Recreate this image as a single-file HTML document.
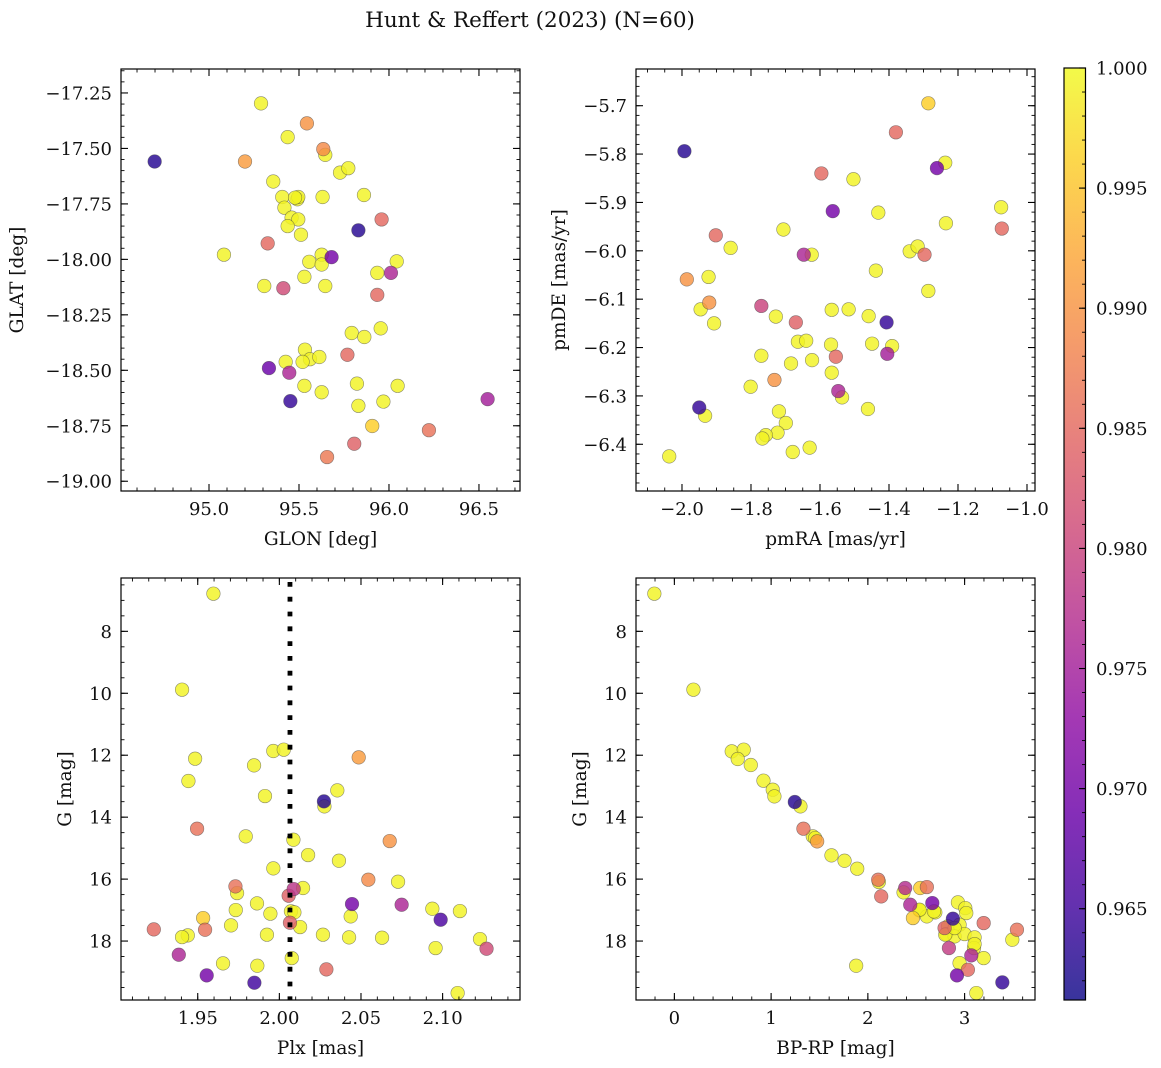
<!DOCTYPE html>
<html><head><meta charset="utf-8">
<style>
html,body{margin:0;padding:0;background:#fff;}
svg{display:block;font-family:"DejaVu Serif","Liberation Serif",serif;}
</style></head>
<body>
<svg id="fig" width="1161" height="1068" viewBox="0 0 1161 1068" xmlns="http://www.w3.org/2000/svg">
<rect width="1161" height="1068" fill="#fff"/>
<text x="530" y="27" text-anchor="middle" font-size="21.5" fill="#111">Hunt &amp; Reffert (2023) (N=60)</text>
<defs>
<linearGradient id="plasmaGrad" x1="0" y1="1" x2="0" y2="0">
<stop offset="0" stop-color="#0d0887"/><stop offset="0.1" stop-color="#41049d"/><stop offset="0.2" stop-color="#6a00a8"/><stop offset="0.3" stop-color="#8f0da4"/><stop offset="0.4" stop-color="#b12a90"/><stop offset="0.5" stop-color="#cc4778"/><stop offset="0.6" stop-color="#e16462"/><stop offset="0.7" stop-color="#f2844b"/><stop offset="0.8" stop-color="#fca636"/><stop offset="0.9" stop-color="#fcce25"/><stop offset="1" stop-color="#f0f921"/>
</linearGradient>
</defs>
</svg>
<script>
// ---------- Panel 1: GLON vs GLAT ----------
const p1Lon = [94.698,95.200,95.289,95.544,95.437,95.635,95.646,95.728,95.774,95.357,95.407,95.491,95.496,95.631,95.861,95.419,95.459,95.496,95.437,95.511,95.830,95.959,95.326,95.083,95.681,95.626,95.557,95.626,96.043,95.935,96.011,95.530,95.307,95.413,95.646,95.935,95.793,95.863,95.954,95.533,95.561,95.613,95.520,95.426,95.769,95.333,95.446,95.530,95.626,95.822,96.048,95.452,95.830,95.969,96.548,95.907,96.222,95.807,95.656,95.478];
const p1Lat = [-17.559,-17.559,-17.297,-17.387,-17.449,-17.503,-17.529,-17.609,-17.589,-17.649,-17.719,-17.729,-17.719,-17.719,-17.710,-17.767,-17.812,-17.820,-17.850,-17.889,-17.869,-17.820,-17.928,-17.979,-17.990,-17.979,-18.011,-18.023,-18.009,-18.061,-18.061,-18.079,-18.120,-18.130,-18.120,-18.160,-18.332,-18.350,-18.311,-18.407,-18.450,-18.440,-18.462,-18.462,-18.430,-18.490,-18.511,-18.570,-18.599,-18.560,-18.570,-18.639,-18.660,-18.641,-18.630,-18.751,-18.770,-18.831,-18.891,-17.722];
const p1Prob = [0.963,0.991,0.9995,0.990,0.9995,0.989,0.9995,0.9995,0.9995,0.9995,0.9995,0.9995,0.9995,0.9995,0.9995,0.9995,0.9995,0.9995,0.9995,0.9995,0.963,0.985,0.985,0.9995,0.970,0.9995,0.9995,0.9995,0.9995,0.9995,0.976,0.9995,0.9995,0.981,0.9995,0.985,0.9995,0.9995,0.9995,0.9995,0.9995,0.9995,0.9995,0.9995,0.985,0.969,0.976,0.9995,0.9995,0.9995,0.9995,0.964,0.9995,0.9995,0.975,0.996,0.986,0.984,0.987,0.9995];
const p1XTicks = [95.0,95.5,96.0,96.5];
const p1XTickLabels = ["95.0","95.5","96.0","96.5"];
const p1YTicks = [-17.25,-17.5,-17.75,-18.0,-18.25,-18.5,-18.75,-19.0];
const p1YTickLabels = ["−17.25","−17.50","−17.75","−18.00","−18.25","−18.50","−18.75","−19.00"];

// ---------- Panel 2: pmRA vs pmDE ----------
const p2PmRA = [-1.286,-1.380,-1.993,-1.261,-1.237,-1.596,-1.503,-1.563,-1.431,-1.075,-1.235,-1.073,-1.706,-1.902,-1.859,-1.647,-1.624,-1.340,-1.317,-1.297,-1.438,-1.986,-1.923,-1.286,-1.921,-1.946,-1.907,-1.770,-1.728,-1.670,-1.566,-1.517,-1.459,-1.407,-1.664,-1.640,-1.568,-1.449,-1.405,-1.391,-1.770,-1.684,-1.623,-1.554,-1.566,-1.732,-1.801,-1.547,-1.536,-1.950,-1.933,-1.461,-1.719,-1.699,-1.723,-1.757,-1.767,-1.679,-1.630,-2.037];
const p2PmDE = [-5.695,-5.755,-5.794,-5.829,-5.818,-5.840,-5.852,-5.918,-5.921,-5.910,-5.943,-5.954,-5.956,-5.968,-5.994,-6.008,-6.008,-6.001,-5.991,-6.008,-6.041,-6.059,-6.054,-6.083,-6.107,-6.121,-6.150,-6.114,-6.136,-6.148,-6.122,-6.121,-6.135,-6.148,-6.188,-6.186,-6.194,-6.192,-6.213,-6.197,-6.217,-6.233,-6.226,-6.219,-6.252,-6.267,-6.281,-6.290,-6.303,-6.324,-6.341,-6.327,-6.332,-6.356,-6.376,-6.381,-6.388,-6.416,-6.407,-6.425];
const p2Prob = [0.996,0.985,0.963,0.970,0.9995,0.985,0.9995,0.970,0.9995,0.9995,0.9995,0.985,0.9995,0.985,0.9995,0.976,0.9995,0.9995,0.9995,0.985,0.9995,0.990,0.9995,0.9995,0.990,0.9995,0.9995,0.980,0.9995,0.984,0.9995,0.9995,0.9995,0.964,0.9995,0.9995,0.9995,0.9995,0.975,0.9995,0.9995,0.9995,0.9995,0.985,0.9995,0.990,0.9995,0.976,0.9995,0.964,0.9995,0.9995,0.9995,0.9995,0.9995,0.9995,0.9995,0.9995,0.9995,0.9995];
const p2XTicks = [-2.0,-1.8,-1.6,-1.4,-1.2,-1.0];
const p2XTickLabels = ["−2.0","−1.8","−1.6","−1.4","−1.2","−1.0"];
const p2YTicks = [-5.7,-5.8,-5.9,-6.0,-6.1,-6.2,-6.3,-6.4];
const p2YTickLabels = ["−5.7","−5.8","−5.9","−6.0","−6.1","−6.2","−6.3","−6.4"];

// ---------- Panel 3: Plx vs G ----------
const p3Plx = [1.9596,1.9404,1.9484,1.9443,1.9845,1.9963,2.0027,2.0486,1.9912,2.0355,2.0273,2.0276,1.9496,1.9794,2.0086,2.0676,2.0176,2.0365,1.9963,2.0545,2.0727,1.9731,1.9741,2.0088,2.0145,2.0057,1.9863,2.0445,2.0749,1.9733,1.9945,2.0071,2.0937,2.1106,1.9533,2.0437,2.0988,1.9231,1.9545,1.9704,2.0065,2.0127,1.9439,1.9404,1.9924,2.0267,2.0427,2.0629,2.1229,2.1269,2.0957,1.9384,2.0076,1.9655,1.9865,2.0288,1.9555,1.9847,2.1092,2.0092];
const p3G = [6.784,9.884,12.112,12.833,12.327,11.864,11.821,12.069,13.318,13.135,13.490,13.651,14.372,14.620,14.728,14.771,15.223,15.406,15.653,16.019,16.084,16.235,16.450,16.321,16.288,16.536,16.784,16.805,16.827,16.999,17.117,17.042,16.956,17.031,17.257,17.203,17.311,17.623,17.634,17.494,17.408,17.548,17.817,17.871,17.795,17.795,17.882,17.892,17.935,18.248,18.226,18.441,18.549,18.721,18.797,18.915,19.109,19.346,19.679,17.074];
const p3Prob = [0.9995,0.9995,0.9995,0.9995,0.9995,0.9995,0.9995,0.991,0.9995,0.9995,0.963,0.9995,0.986,0.9995,0.9995,0.990,0.9995,0.9995,0.9995,0.989,0.9995,0.986,0.9995,0.978,0.9995,0.984,0.9995,0.970,0.976,0.9995,0.9995,0.9995,0.9995,0.9995,0.996,0.9995,0.966,0.985,0.986,0.9995,0.984,0.9995,0.9995,0.9995,0.9995,0.9995,0.9995,0.9995,0.9995,0.981,0.9995,0.976,0.9995,0.9995,0.9995,0.985,0.970,0.965,0.9995,0.9995];
const p3XTicks = [1.95,2.00,2.05,2.10];
const p3XTickLabels = ["1.95","2.00","2.05","2.10"];
const gTicks = [8,10,12,14,16,18];
const gTickLabels = ["8","10","12","14","16","18"];
const plxRef = [2.0065];

// ---------- Panel 4: BP-RP vs G ----------
const p4Color = [-0.207,0.197,0.593,0.717,0.655,0.790,0.921,1.017,1.034,1.245,1.303,1.334,1.431,1.476,1.455,1.624,1.759,1.890,2.107,2.114,2.138,2.386,2.369,2.610,2.541,2.438,2.666,2.466,2.534,2.610,2.697,2.931,3.007,3.017,2.879,3.197,2.793,2.828,2.948,2.810,2.897,3.000,3.103,2.838,3.097,3.069,3.197,2.948,3.034,2.921,1.879,3.390,3.121,3.541,3.493,2.800,2.897,3.103,2.683,2.534];
const p4G = [6.784,9.884,11.875,11.821,12.123,12.316,12.822,13.113,13.328,13.511,13.651,14.372,14.620,14.782,14.674,15.233,15.406,15.664,16.019,16.095,16.558,16.288,16.428,16.256,16.288,16.827,16.773,17.257,17.010,17.203,17.074,16.751,16.934,17.096,17.279,17.419,17.580,17.526,17.473,17.774,17.849,17.774,17.882,18.226,18.226,18.463,18.549,18.711,18.926,19.109,18.797,19.335,19.679,17.634,17.957,17.795,17.580,18.097,17.042,16.988];
const p4Prob = [0.9995,0.9995,0.9995,0.9995,0.9995,0.9995,0.9995,0.9995,0.9995,0.963,0.9995,0.986,0.9995,0.991,0.9995,0.9995,0.9995,0.9995,0.986,0.9995,0.985,0.977,0.9995,0.986,0.996,0.976,0.970,0.996,0.9995,0.9995,0.9995,0.9995,0.9995,0.9995,0.964,0.985,0.984,0.9995,0.9995,0.9995,0.9995,0.9995,0.9995,0.979,0.9995,0.976,0.9995,0.9995,0.985,0.970,0.9995,0.964,0.9995,0.986,0.9995,0.9995,0.9995,0.9995,0.9995,0.9995];
const p4XTicks = [0,1,2,3];
const p4XTickLabels = ["0","1","2","3"];

// ---------- Colorbar ----------
const cbTicks = [0.965,0.970,0.975,0.980,0.985,0.990,0.995,1.000];
const cbTickLabels = ["0.965","0.970","0.975","0.980","0.985","0.990","0.995","1.000"];
const cbMin = 0.9612, cbMax = 1.0;

const NS = "http://www.w3.org/2000/svg";
const svg = document.getElementById('fig');
const TICK_FS = 18, TITLE_FS = 18.5;
function mk(tag, attrs, parent){
  const e = document.createElementNS(NS, tag);
  for (const k in attrs) e.setAttribute(k, attrs[k]);
  (parent||svg).appendChild(e);
  return e;
}
const stops = ["#0d0887","#41049d","#6a00a8","#8f0da4","#b12a90","#cc4778","#e16462","#f2844b","#fca636","#fcce25","#f0f921"];
function hex(c){return [parseInt(c.slice(1,3),16),parseInt(c.slice(3,5),16),parseInt(c.slice(5,7),16)];}
function plasma(v){
  let t = (v-cbMin)/(cbMax-cbMin); t=Math.max(0,Math.min(1,t));
  const f = t*10, i = Math.min(9, Math.floor(f)), r = f-i;
  const a = hex(stops[i]), b = hex(stops[i+1]);
  return `rgb(${Math.round(a[0]+(b[0]-a[0])*r)},${Math.round(a[1]+(b[1]-a[1])*r)},${Math.round(a[2]+(b[2]-a[2])*r)})`;
}
function lin(d0,d1,r0,r1){return v => r0 + (v-d0)/(d1-d0)*(r1-r0);}

function panel(cfg){
  const {name,L,T,W,H,xs,ys,xTicks,xLabels,yTicks,yLabels,xMinorStep,yMinorStep,xDom,yDom,xTitle,yTitle,xs_data,ys_data,probs,yTitleX} = cfg;
  const g = mk('g',{});
  
  
  const pts = mk('g',{},g);
  
  
  const order = probs.map((p,i)=>i).sort((a,b)=>probs[b]-probs[a]);
  order.forEach(i=>{
    const c = mk('circle',{cx:xs(xs_data[i]),cy:ys(ys_data[i]),r:6.8,fill:plasma(probs[i]),'fill-opacity':0.82,stroke:'#444','stroke-opacity':0.6,'stroke-width':0.6},pts);
    
    
  });
  if (cfg.after) cfg.after(g);
  const fr = mk('rect',{x:L,y:T,width:W,height:H,fill:'none',stroke:'#000','stroke-width':1.2},g);
  
  
  const lo = Math.min(xDom[0],xDom[1]), hi = Math.max(xDom[0],xDom[1]);
  for (let v=Math.ceil(lo/xMinorStep-1e-6)*xMinorStep; v<=hi+1e-9; v+=xMinorStep){
    const x = xs(v);
    mk('line',{x1:x,x2:x,y1:T+H,y2:T+H-3.5,stroke:'#000','stroke-width':0.9},g);
    mk('line',{x1:x,x2:x,y1:T,y2:T+3.5,stroke:'#000','stroke-width':0.9},g);
  }
  const ylo = Math.min(yDom[0],yDom[1]), yhi = Math.max(yDom[0],yDom[1]);
  for (let v=Math.ceil(ylo/yMinorStep-1e-6)*yMinorStep; v<=yhi+1e-9; v+=yMinorStep){
    const y = ys(v);
    mk('line',{x1:L,x2:L+3.5,y1:y,y2:y,stroke:'#000','stroke-width':0.9},g);
    mk('line',{x1:L+W,x2:L+W-3.5,y1:y,y2:y,stroke:'#000','stroke-width':0.9},g);
  }
  xTicks.forEach((v,i)=>{
    const x = xs(v);
    mk('line',{x1:x,x2:x,y1:T+H,y2:T+H-7,stroke:'#000','stroke-width':1.1},g);
    mk('line',{x1:x,x2:x,y1:T,y2:T+7,stroke:'#000','stroke-width':1.1},g);
    const t = mk('text',{x:x,y:T+H+24,'text-anchor':'middle','font-size':TICK_FS,fill:'#111'},g);
    t.textContent = xLabels[i];
    
    
  });
  yTicks.forEach((v,i)=>{
    const y = ys(v);
    mk('line',{x1:L,x2:L+7,y1:y,y2:y,stroke:'#000','stroke-width':1.1},g);
    mk('line',{x1:L+W,x2:L+W-7,y1:y,y2:y,stroke:'#000','stroke-width':1.1},g);
    const t = mk('text',{x:L-9,y:y+6.5,'text-anchor':'end','font-size':TICK_FS,fill:'#111'},g);
    t.textContent = yLabels[i];
    
    
  });
  const xt = mk('text',{x:L+W/2,y:T+H+54,'text-anchor':'middle','font-size':TITLE_FS,fill:'#111'},g);
  xt.textContent = xTitle;
  
  
  const yt = mk('text',{x:0,y:0,'text-anchor':'middle','font-size':TITLE_FS,fill:'#111',transform:`translate(${yTitleX},${T+H/2}) rotate(-90)`},g);
  yt.textContent = yTitle;
  
  
}

{
  const xDom=[94.511,96.728], yDom=[-17.142,-19.044];
  panel({name:'glon-glat-panel',L:121,T:69,W:399,H:422,xDom,yDom,
    xs:lin(xDom[0],xDom[1],121,520), ys:lin(yDom[0],yDom[1],69,491),
    xTicks:p1XTicks,xLabels:p1XTickLabels,yTicks:p1YTicks,yLabels:p1YTickLabels,
    xMinorStep:0.1,yMinorStep:0.05,xTitle:'GLON [deg]',yTitle:'GLAT [deg]',yTitleX:23,
    xs_data:p1Lon,ys_data:p1Lat,probs:p1Prob});
}
{
  const xDom=[-2.1333,-0.9768], yDom=[-5.6241,-6.4966];
  panel({name:'pmra-pmde-panel',L:636,T:69,W:399,H:422,xDom,yDom,
    xs:lin(xDom[0],xDom[1],636,1035), ys:lin(yDom[0],yDom[1],69,491),
    xTicks:p2XTicks,xLabels:p2XTickLabels,yTicks:p2YTicks,yLabels:p2YTickLabels,
    xMinorStep:0.05,yMinorStep:0.02,xTitle:'pmRA [mas/yr]',yTitle:'pmDE [mas/yr]',yTitleX:565,
    xs_data:p2PmRA,ys_data:p2PmDE,probs:p2Prob});
}
{
  const xDom=[1.903,2.1474], yDom=[6.278,19.903];
  const xs=lin(xDom[0],xDom[1],121,520), ys=lin(yDom[0],yDom[1],578,1000);
  panel({name:'plx-g-panel',L:121,T:578,W:399,H:422,xDom,yDom,xs,ys,
    xTicks:p3XTicks,xLabels:p3XTickLabels,yTicks:gTicks,yLabels:gTickLabels,
    xMinorStep:0.01,yMinorStep:0.5,xTitle:'Plx [mas]',yTitle:'G [mag]',yTitleX:71,
    xs_data:p3Plx,ys_data:p3G,probs:p3Prob,
    after:(g)=>{
      const ln = mk('line',{x1:xs(plxRef[0]),x2:xs(plxRef[0]),y1:582,y2:1000,stroke:'#000','stroke-width':4.8,'stroke-dasharray':'4.8 10'},g);
      
      
    }});
}
{
  const xDom=[-0.3966,3.7276], yDom=[6.278,19.903];
  panel({name:'color-magnitude-panel',L:636,T:578,W:399,H:422,xDom,yDom,
    xs:lin(xDom[0],xDom[1],636,1035), ys:lin(yDom[0],yDom[1],578,1000),
    xTicks:p4XTicks,xLabels:p4XTickLabels,yTicks:gTicks,yLabels:gTickLabels,
    xMinorStep:0.2,yMinorStep:0.5,xTitle:'BP-RP [mag]',yTitle:'G [mag]',yTitleX:586,
    xs_data:p4Color,ys_data:p4G,probs:p4Prob});
}
{
  const g = mk('g',{});
  
  
  const cy = lin(cbMin,cbMax,1000,68);
  mk('rect',{x:1064,y:68,width:21.5,height:932,fill:'url(#plasmaGrad)','fill-opacity':0.82},g);
  mk('rect',{x:1064,y:68,width:21.5,height:932,fill:'none',stroke:'#000','stroke-width':1.2},g);
  for (let k=Math.ceil(cbMin*1000); k<=1000; k++){
    const y = cy(k/1000);
    mk('line',{x1:1085.5,x2:1082,y1:y,y2:y,stroke:'#000','stroke-width':0.9},g);
  }
  cbTicks.forEach((v,i)=>{
    const y = cy(v);
    mk('line',{x1:1085.5,x2:1079,y1:y,y2:y,stroke:'#000','stroke-width':1.1},g);
    const t = mk('text',{x:1096,y:y+6.5,'font-size':TICK_FS,fill:'#111'},g);
    t.textContent = cbTickLabels[i];
    
    
  });
}
</script>
</body></html>
